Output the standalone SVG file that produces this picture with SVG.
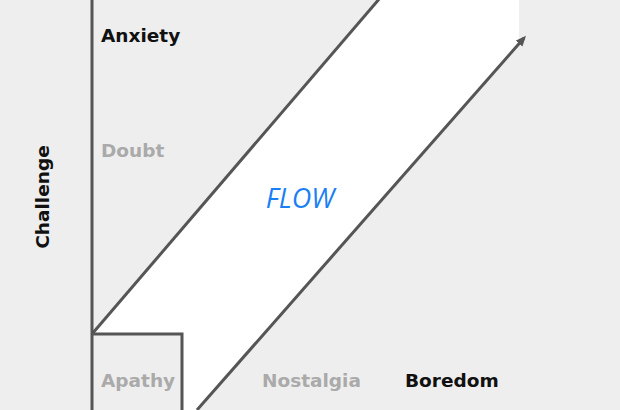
<svg xmlns="http://www.w3.org/2000/svg" width="620" height="410" viewBox="0 0 620 410">
<style>
.ln{stroke:#555555;stroke-width:3;fill:none}
.lbl{font-family:"DejaVu Sans",sans-serif;font-weight:bold;font-size:18.5px}
.dark{fill:#111111}
.muted{fill:#aaaaaa}
</style>
<defs>
<marker id="ah" markerWidth="4" markerHeight="4" refX="2.5" refY="1.5" orient="auto" markerUnits="strokeWidth">
<path d="M0,0 L3.5,1.5 L0,3 Z" fill="#555555"/>
</marker>
</defs>
<rect width="620" height="410" fill="#eeeeee"/>
<polygon points="92,334 378,0 519,0 519,43 197,410 182,410 182,334" fill="#ffffff"/>
<g id="connectors">
<line class="ln" x1="92" y1="0" x2="92" y2="410"/>
<line class="ln" x1="92" y1="334" x2="380" y2="-2"/>
<line class="ln" x1="197" y1="410" x2="524" y2="38" marker-end="url(#ah)"/>
</g>
<g id="apathy">
<polyline class="ln" points="92,334 182,334 182,412"/>
<text class="lbl muted" x="101" y="387">Apathy</text>
</g>
<g id="anxiety"><text class="lbl dark" x="101" y="42">Anxiety</text></g>
<g id="doubt"><text class="lbl muted" x="101" y="157">Doubt</text></g>
<g id="flow"><text x="300" y="208" text-anchor="middle" font-family="'Open Sans',sans-serif" font-style="italic" font-size="27" fill="#1a7ff5">FLOW</text></g>
<g id="nostalgia"><text class="lbl muted" x="262" y="387">Nostalgia</text></g>
<g id="boredom"><text class="lbl dark" x="405" y="387">Boredom</text></g>
<g id="challenge"><text class="lbl dark" transform="translate(49,197) rotate(-90)" text-anchor="middle">Challenge</text></g>
</svg>
